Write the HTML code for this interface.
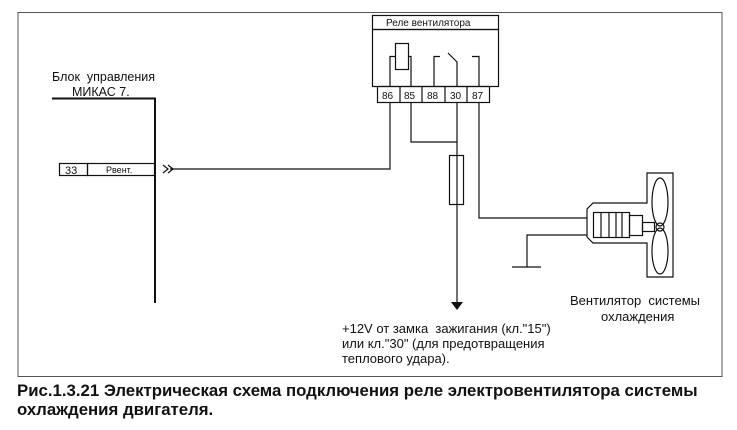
<!DOCTYPE html>
<html><head><meta charset="utf-8"><style>
body{margin:0;background:#fff;}
svg{display:block;}
text{font-family:"Liberation Sans",Arial,sans-serif;fill:#111;white-space:pre;}
</style></head><body>
<svg width="737" height="430" viewBox="0 0 737 430" xmlns="http://www.w3.org/2000/svg" xml:space="preserve">
<g fill="none" stroke="#555" stroke-width="1">
<rect x="18" y="12.5" width="704" height="364"/>
</g>
<g fill="none" stroke="#111" stroke-width="1.2">
<rect x="372.5" y="15.5" width="126" height="14"/>
<rect x="372.5" y="29.5" width="126" height="57"/>
<rect x="377.5" y="86.5" width="112" height="16"/>
<line x1="400" y1="86.5" x2="400" y2="102.5"/>
<line x1="422" y1="86.5" x2="422" y2="102.5"/>
<line x1="445" y1="86.5" x2="445" y2="102.5"/>
<line x1="467" y1="86.5" x2="467" y2="102.5"/>
<rect x="395.5" y="43.5" width="13" height="26"/>
<polyline points="390,86.5 390,56.5 395.5,56.5"/>
<polyline points="411,86.5 411,56.5 408.5,56.5"/>
<polyline points="434,86.5 434,56.5 440,56.5"/>
<polyline points="457,86.5 457,62 448,53"/>
<polyline points="479,86.5 479,56.5 472,56.5"/>
<polyline points="390,102.5 390,169 170,169"/>
<polyline points="411,102.5 411,142 457,142"/>
<line x1="457" y1="102.5" x2="457" y2="302"/>
<rect x="449.5" y="155.5" width="14" height="49" fill="#fff"/>
<line x1="457" y1="155.5" x2="457" y2="204.5"/>
<polyline points="479,102.5 479,218 587,218"/>
<polyline points="587,235 527,235 527,267"/>
<line x1="512" y1="267" x2="541" y2="267"/>
<polyline points="163,165 168,169 163,173"/>
<polyline points="168,165 173,169 168,173"/>
<polyline points="52,98.5 155,98.5 155,303" stroke-width="2"/>
<rect x="59.5" y="163.5" width="28" height="12"/>
<rect x="87.5" y="163.5" width="67" height="12"/>
<path d="M647,173 L673,173 L673,277 L647,277 L647,243 L593,243 L587,237 L587,209 L593,203 L647,203 Z"/>
<rect x="593.5" y="212.5" width="36" height="25"/>
<line x1="601" y1="212.5" x2="601" y2="237.5"/>
<line x1="609" y1="212.5" x2="609" y2="237.5"/>
<line x1="616" y1="212.5" x2="616" y2="237.5"/>
<line x1="622" y1="212.5" x2="622" y2="237.5"/>
<rect x="629.5" y="215.5" width="13" height="20"/>
<rect x="642.5" y="222.5" width="12" height="9"/>
<ellipse cx="660" cy="202" rx="8" ry="24"/>
<ellipse cx="660" cy="251" rx="8" ry="23"/>
<circle cx="660" cy="227" r="4"/>
</g>
<polygon points="451,302 463,302 457,310" fill="#111"/>
<g>
<text x="386" y="26" font-size="10">Реле вентилятора</text>
<text x="382" y="99" font-size="10">86</text>
<text x="404" y="99" font-size="10">85</text>
<text x="427" y="99" font-size="10">88</text>
<text x="450" y="99" font-size="10">30</text>
<text x="472" y="99" font-size="10">87</text>
<text x="65" y="174" font-size="11">33</text>
<text x="106" y="173" font-size="9">Рвент.</text>
<text x="52" y="81" font-size="12.5">Блок  управления</text>
<text x="72" y="96" font-size="12.5">МИКАС 7.</text>
<text x="570" y="305" font-size="13">Вентилятор  системы</text>
<text x="601" y="321" font-size="13">охлаждения</text>
<text x="342" y="333" font-size="13">+12V от замка  зажигания (кл."15")</text>
<text x="342" y="348" font-size="13">или кл."30" (для предотвращения</text>
<text x="342" y="363" font-size="13">теплового удара).</text>
<text x="17" y="396" font-size="16.8" font-weight="bold">Рис.1.3.21 Электрическая схема подключения реле электровентилятора системы</text>
<text x="17" y="415" font-size="16.8" font-weight="bold">охлаждения двигателя.</text>
</g>
</svg>
</body></html>
